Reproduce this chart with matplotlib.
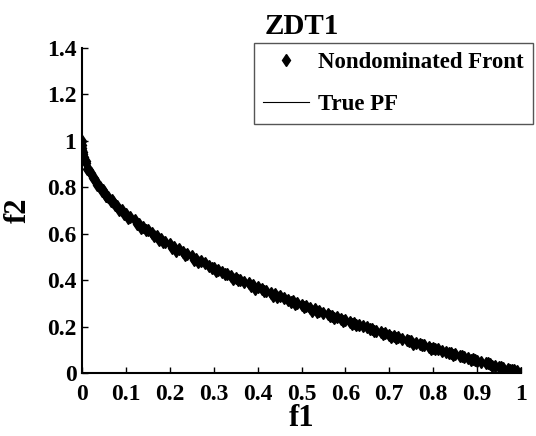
import matplotlib
matplotlib.use('Agg')
import matplotlib.pyplot as plt

# nondominated front
front_f1 = [0.0, 0.0, 0.0, 0.001, 0.002, 0.003, 0.005, 0.008, 0.01, 0.015,
            0.02, 0.025, 0.03, 0.035, 0.04, 0.045, 0.05, 0.055, 0.06, 0.065,
            0.07, 0.075, 0.08, 0.09, 0.10, 0.11, 0.12, 0.13, 0.14, 0.15,
            0.16, 0.17, 0.18, 0.19, 0.20, 0.21, 0.22, 0.23, 0.24, 0.25,
            0.26, 0.27, 0.28, 0.29, 0.30, 0.31, 0.32, 0.33, 0.34, 0.35,
            0.36, 0.37, 0.38, 0.39, 0.40, 0.41, 0.42, 0.43, 0.44, 0.45,
            0.46, 0.47, 0.48, 0.49, 0.50, 0.51, 0.52, 0.53, 0.54, 0.55,
            0.56, 0.57, 0.58, 0.59, 0.60, 0.61, 0.62, 0.63, 0.64, 0.65,
            0.66, 0.67, 0.68, 0.69, 0.70, 0.71, 0.72, 0.73, 0.74, 0.75,
            0.76, 0.77, 0.78, 0.79, 0.80, 0.81, 0.82, 0.83, 0.84, 0.85,
            0.86, 0.87, 0.88, 0.89, 0.90, 0.91, 0.92, 0.93, 0.94, 0.95,
            0.96, 0.97, 0.98, 0.99, 1.0,
            0.015, 0.035, 0.055, 0.085, 0.105, 0.125, 0.145, 0.165, 0.185, 0.205,
            0.235, 0.265, 0.295, 0.325, 0.355, 0.385, 0.415, 0.445, 0.475, 0.505,
            0.535, 0.565, 0.595, 0.625, 0.655, 0.685, 0.715, 0.745, 0.775, 0.805,
            0.835, 0.865, 0.895, 0.925, 0.955, 0.985,
            0.012, 0.028, 0.047, 0.068, 0.095, 0.135, 0.175, 0.215, 0.255, 0.305,
            0.345, 0.395, 0.435, 0.485, 0.525, 0.575, 0.615, 0.665, 0.705, 0.755,
            0.795, 0.845, 0.885, 0.935, 0.975]
front_f2 = [1.000, 0.980, 0.960, 0.970, 0.952, 0.944, 0.932, 0.912, 0.903, 0.874,
            0.862, 0.838, 0.830, 0.808, 0.803, 0.785, 0.778, 0.762, 0.757, 0.742,
            0.738, 0.722, 0.719, 0.703, 0.686, 0.670, 0.657, 0.641, 0.628, 0.615,
            0.602, 0.590, 0.578, 0.566, 0.555, 0.544, 0.533, 0.522, 0.512, 0.502,
            0.492, 0.482, 0.473, 0.463, 0.454, 0.445, 0.436, 0.428, 0.419, 0.410,
            0.402, 0.394, 0.386, 0.378, 0.370, 0.362, 0.354, 0.346, 0.339, 0.331,
            0.324, 0.316, 0.309, 0.302, 0.295, 0.288, 0.281, 0.274, 0.267, 0.260,
            0.254, 0.247, 0.240, 0.234, 0.227, 0.221, 0.215, 0.208, 0.202, 0.196,
            0.190, 0.183, 0.177, 0.171, 0.165, 0.159, 0.153, 0.148, 0.142, 0.136,
            0.130, 0.125, 0.119, 0.113, 0.108, 0.102, 0.096, 0.091, 0.085, 0.080,
            0.075, 0.069, 0.064, 0.059, 0.053, 0.048, 0.043, 0.038, 0.032, 0.027,
            0.022, 0.017, 0.012, 0.007, 0.002,
            0.872, 0.819, 0.761, 0.703, 0.669, 0.642, 0.614, 0.588, 0.563, 0.540,
            0.509, 0.480, 0.451, 0.426, 0.400, 0.376, 0.352, 0.329, 0.307, 0.285,
            0.264, 0.244, 0.225, 0.206, 0.188, 0.170, 0.152, 0.136, 0.119, 0.103,
            0.088, 0.072, 0.057, 0.042, 0.026, 0.011,
            0.880, 0.842, 0.790, 0.746, 0.686, 0.625, 0.572, 0.525, 0.488, 0.440,
            0.403, 0.361, 0.332, 0.298, 0.269, 0.236, 0.211, 0.180, 0.156, 0.125,
            0.104, 0.076, 0.055, 0.030, 0.015]

# true Pareto front
pf_f1 = [0.0, 0.005, 0.01, 0.02, 0.03, 0.05, 0.075, 0.1, 0.15, 0.2,
         0.25, 0.3, 0.35, 0.4, 0.45, 0.5, 0.55, 0.6, 0.65, 0.7,
         0.75, 0.8, 0.85, 0.9, 0.95, 1.0]
pf_f2 = [1.0, 0.929, 0.900, 0.859, 0.827, 0.776, 0.726, 0.684, 0.613, 0.553,
         0.500, 0.452, 0.408, 0.368, 0.329, 0.293, 0.258, 0.225, 0.194, 0.163,
         0.134, 0.106, 0.078, 0.051, 0.025, 0.0]

x_ticks = [0, 0.1, 0.2, 0.3, 0.4, 0.5, 0.6, 0.7, 0.8, 0.9, 1]
x_labels = ['0', '0.1', '0.2', '0.3', '0.4', '0.5', '0.6', '0.7', '0.8', '0.9', '1']
y_ticks = [0, 0.2, 0.4, 0.6, 0.8, 1.0, 1.2, 1.4]
y_labels = ['0', '0.2', '0.4', '0.6', '0.8', '1', '1.2', '1.4']

plt.rcParams['font.family'] = 'Liberation Serif'
plt.rcParams['font.weight'] = 'bold'

fig = plt.figure(figsize=(5.36, 4.36), dpi=100)
ax = fig.add_axes([0.153, 0.1445, 0.819, 0.7455])

ax.plot(front_f1, front_f2, linestyle='none', marker='d', ms=6, color='k',
        label='Nondominated Front')
ax.plot(pf_f1, pf_f2, color='k', lw=0.8, label='True PF')

ax.set_xlim(0, 1)
ax.set_ylim(0, 1.4)
ax.set_xticks(x_ticks)
ax.set_xticklabels(x_labels)
ax.set_yticks(y_ticks)
ax.set_yticklabels(y_labels)
ax.tick_params(direction='in', length=4, width=1, labelsize=17)
ax.tick_params(axis='x', pad=8)
ax.tick_params(axis='y', pad=4)
for lab in ax.get_xticklabels() + ax.get_yticklabels():
    lab.set_fontweight('bold')

ax.spines['top'].set_visible(False)
ax.spines['right'].set_visible(False)
ax.spines['left'].set_linewidth(1.5)
ax.spines['bottom'].set_linewidth(1.5)

ax.set_xlabel('f1', fontsize=22, fontweight='bold', labelpad=-1)
ax.set_ylabel('f2', fontsize=22, fontweight='bold', labelpad=10)
ax.set_title('ZDT1', fontsize=21, fontweight='bold', pad=10)

leg = ax.legend(loc='upper right', bbox_to_anchor=(1.027, 1.016),
                prop={'size': 16.5, 'weight': 'bold'}, fancybox=False,
                edgecolor='#555555', framealpha=1, handlelength=2.0,
                handletextpad=0.4, borderpad=0.4, labelspacing=0.9,
                borderaxespad=0)
leg.get_frame().set_linewidth(1.0)

fig.savefig('out.png', dpi=100)
